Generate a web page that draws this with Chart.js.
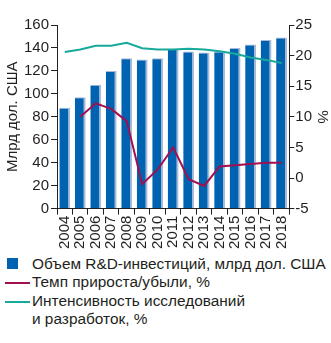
<!DOCTYPE html>
<html>
<head>
<meta charset="utf-8">
<script src="https://cdn.jsdelivr.net/npm/chart.js@4.4.1/dist/chart.umd.min.js"></script>
<style>
  body { margin: 0; background: #fff; font-family: "Liberation Sans", Arial, sans-serif; color: #231f20; }
  #wrap { position: relative; width: 331px; height: 343px; }
  #box { position: absolute; left: 0; top: 0; width: 331px; height: 250px; }
  #legend { position: absolute; left: 0; top: 255px; font-size: 15.4px; line-height: 18.3px; }
  .item { position: relative; padding-left: 32px; white-space: nowrap; }
  .sq { position: absolute; left: 7px; top: 3px; width: 11px; height: 11px; background: #0063b1; }
  .ln { position: absolute; left: 5px; top: 9px; width: 25px; height: 2px; }
</style>
</head>
<body>
<div id="wrap">
  <div id="box"><canvas id="chart"></canvas></div>
  <div id="legend"></div>
</div>
<script>
const years = ["2004", "2005", "2006", "2007", "2008", "2009", "2010", "2011", "2012", "2013", "2014", "2015", "2016", "2017", "2018"];
const investments = [88, 97, 108, 120, 131, 130, 131, 139, 137, 136, 137, 140, 143, 147, 149];
const growth = [null, 10, 12.2, 11.3, 9.3, -1, 1.4, 5, -0.2, -1.3, 1.9, 2.1, 2.3, 2.5, 2.5];
const intensity = [20.6, 21, 21.6, 21.6, 22.1, 21.2, 21, 21, 21.1, 21, 20.7, 20.3, 19.7, 19.3, 18.8];

const labelBar = "Объем R&D-инвестиций, млрд дол. США";
const labelGrowth = "Темп прироста/убыли, %";
const labelIntensity = ["Интенсивность исследований", "и разработок, %"];

const fontTick = { family: "Liberation Sans", size: 15 };
const ink = "#231f20";

const ctx = document.getElementById("chart");
const chart = new Chart(ctx, {
  type: "bar",
  data: {
    labels: years,
    datasets: [
      {
        type: "line",
        label: labelIntensity.join(" "),
        data: intensity,
        yAxisID: "y1",
        borderColor: "#17a99b",
        borderWidth: 2,
        pointRadius: 0,
        tension: 0,
      },
      {
        type: "line",
        label: labelGrowth,
        data: growth,
        yAxisID: "y1",
        borderColor: "#a1104e",
        borderWidth: 2,
        pointRadius: 0,
        tension: 0,
      },
      {
        label: labelBar,
        data: investments,
        yAxisID: "y",
        backgroundColor: "#0063b1",
        borderColor: "#a9bad8",
        borderWidth: { right: 2, top: 1 },
        borderSkipped: false,
        categoryPercentage: 0.78,
        barPercentage: 0.9,
      },
    ],
  },
  options: {
    responsive: true,
    maintainAspectRatio: false,
    animation: false,
    layout: { padding: { top: 25, right: 0, left: 4, bottom: 0 } },
    plugins: {
      legend: { display: false },
      tooltip: { enabled: false },
    },
    scales: {
      x: {
        grid: { drawOnChartArea: false, drawTicks: true, tickLength: 6, color: ink, offset: true },
        border: { display: true, color: ink, width: 1 },
        ticks: { color: ink, font: fontTick, minRotation: 90, maxRotation: 90, padding: 1, autoSkip: false },
      },
      y: {
        position: "left",
        min: 0,
        max: 160,
        ticks: { stepSize: 20, color: ink, font: fontTick, padding: 2 },
        grid: { drawOnChartArea: false, tickLength: 6, color: ink },
        border: { color: ink },
        title: { display: true, text: "Млрд дол. США", color: ink, font: fontTick, padding: 0 },
      },
      y1: {
        position: "right",
        min: -5,
        max: 25,
        ticks: { stepSize: 5, color: ink, font: fontTick, padding: 1 },
        grid: { drawOnChartArea: false, tickLength: 5, color: ink },
        border: { color: ink },
        title: { display: true, text: "%", color: ink, font: fontTick, padding: 0 },
      },
    },
  },
});

const legend = document.getElementById("legend");
const items = [
  { kind: "sq", color: "#0063b1", lines: [labelBar] },
  { kind: "ln", color: "#a1104e", lines: [labelGrowth] },
  { kind: "ln", color: "#17a99b", lines: labelIntensity },
];
items.forEach((it) => {
  const div = document.createElement("div");
  div.className = "item";
  const mark = document.createElement("span");
  mark.className = it.kind;
  mark.style.background = it.color;
  div.appendChild(mark);
  div.appendChild(document.createTextNode(it.lines[0]));
  for (let i = 1; i < it.lines.length; i++) {
    div.appendChild(document.createElement("br"));
    div.appendChild(document.createTextNode(it.lines[i]));
  }
  legend.appendChild(div);
});
</script>
</body>
</html>
